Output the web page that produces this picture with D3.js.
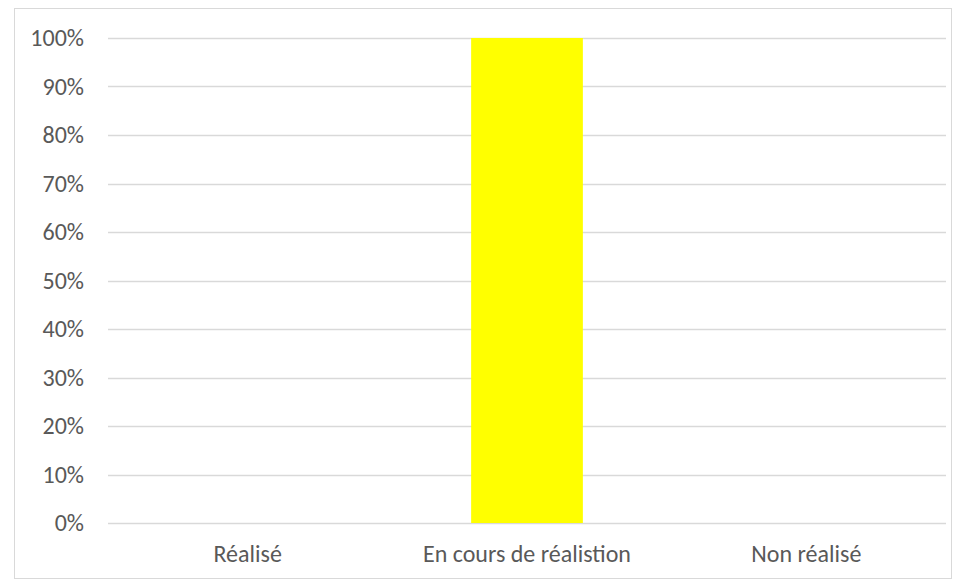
<!DOCTYPE html>
<html>
  <head>
    <script src="https://d3js.org/d3.v7.min.js"></script>
    <style>
      body { margin: 0; background: #fff; }
      text { font-family: Calibri, Carlito, "Open Sans", sans-serif; fill: #595959; }
    </style>
  </head>
  <body>
    <svg id="chart" width="953" height="580"></svg>
    <script>
      const categories = ["Réalisé", "En cours de réalistion", "Non réalisé"];
      const values = [0, 1, 0];
      const yTicks = [0, 0.1, 0.2, 0.3, 0.4, 0.5, 0.6, 0.7, 0.8, 0.9, 1];

      const svg = d3.select("#chart");

      // chart frame
      svg.append("rect")
        .attr("x", 14.5).attr("y", 8.5)
        .attr("width", 937).attr("height", 570)
        .attr("fill", "none")
        .attr("stroke", "#d9d9d9");

      const margin = { top: 38, right: 7, bottom: 57, left: 108 };
      const width = 953 - margin.left - margin.right;
      const height = 580 - margin.top - margin.bottom;

      const x = d3.scaleBand().domain(categories).range([0, width]).paddingInner(0.6).paddingOuter(0.3);
      const y = d3.scaleLinear().domain([0, 1]).range([height, 0]);

      const g = svg.append("g").attr("transform", "translate(" + margin.left + "," + margin.top + ")");

      // grid lines
      g.selectAll("line.grid")
        .data(yTicks)
        .enter()
        .append("line")
        .attr("class", "grid")
        .attr("x1", 0).attr("x2", width)
        .attr("y1", d => Math.round(y(d)) + 0.5)
        .attr("y2", d => Math.round(y(d)) + 0.5)
        .attr("stroke", "#d9d9d9")
        .attr("stroke-width", 1.3);

      // y labels
      g.selectAll("text.ytick")
        .data(yTicks)
        .enter()
        .append("text")
        .attr("x", -24)
        .attr("y", d => y(d))
        .attr("dy", "0.35em")
        .attr("text-anchor", "end")
        .style("font-size", "24px")
        .text(d3.format(".0%"));

      // bars
      g.selectAll("rect.bar")
        .data(values)
        .enter()
        .append("rect")
        .attr("class", "bar")
        .attr("x", (d, i) => x(categories[i]))
        .attr("y", d => y(d))
        .attr("width", x.bandwidth())
        .attr("height", d => height - y(d))
        .attr("fill", "#ffff00");

      // x labels
      g.selectAll("text.xtick")
        .data(categories)
        .enter()
        .append("text")
        .attr("x", d => x(d) + x.bandwidth() / 2)
        .attr("y", height + 39)
        .attr("text-anchor", "middle")
        .style("font-size", "24px")
        .text(d => d);
    </script>
  </body>
</html>
